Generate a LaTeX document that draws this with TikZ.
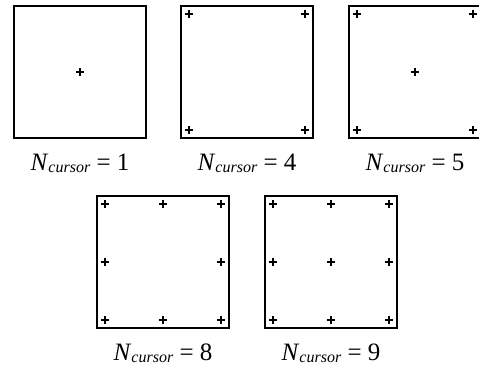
\documentclass[tikz,border=0pt]{standalone}
\usepackage{fontspec}
\setmainfont{Liberation Serif}
\usetikzlibrary{positioning}
\newcommand{\ncur}[1]{\textit{N}\raisebox{-0.8pt}{\fontsize{8}{9}\selectfont\textit{cursor}} = #1}
\tikzset{
    cell/.style={draw,line width=0.8pt,minimum size=66pt,inner sep=0pt},
    caption/.style={inner sep=0pt,font=\fontsize{12.5}{14}\selectfont},
    crs/.pic={\draw[line width=0.8pt] (-2pt,0) -- (2pt,0) (0,-2pt) -- (0,2pt);}
}
\begin{document}
\begin{tikzpicture}[x=0.5pt,y=-0.5pt]
    \useasboundingbox (0,0) rectangle (479,365);
% Cells
    \node[cell] (c1) at (80,72) {};
    \node[cell] (c4) at (247,72) {};
    \node[cell] (c5) at (415,72) {};
    \node[cell] (c8) at (163,262) {};
    \node[cell] (c9) at (331,262) {};
% Cursors
    \foreach\c in {c1,c5,c9}{
        \pic at (\c.center) {crs};
    }
    \foreach\c in {c4,c5,c8,c9}{
        \pic at ([shift={(4.5pt,-4.5pt)}]\c.north west) {crs};
        \pic at ([shift={(-4.5pt,-4.5pt)}]\c.north east) {crs};
        \pic at ([shift={(4.5pt,4.5pt)}]\c.south west) {crs};
        \pic at ([shift={(-4.5pt,4.5pt)}]\c.south east) {crs};
    }
    \foreach\c in {c8,c9}{
        \pic at ([yshift=-4.5pt]\c.north) {crs};
        \pic at ([yshift=4.5pt]\c.south) {crs};
        \pic at ([xshift=4.5pt]\c.west) {crs};
        \pic at ([xshift=-4.5pt]\c.east) {crs};
    }
% Labels
    \node[caption,below=7.5pt of c1] (l1) {\ncur{1}};
    \node[caption,below=7.5pt of c4] (l4) {\ncur{4}};
    \node[caption,below=7.5pt of c5] (l5) {\ncur{5}};
    \node[caption,below=7.5pt of c8] (l8) {\ncur{8}};
    \node[caption,below=7.5pt of c9] (l9) {\ncur{9}};
\end{tikzpicture}
\end{document}
